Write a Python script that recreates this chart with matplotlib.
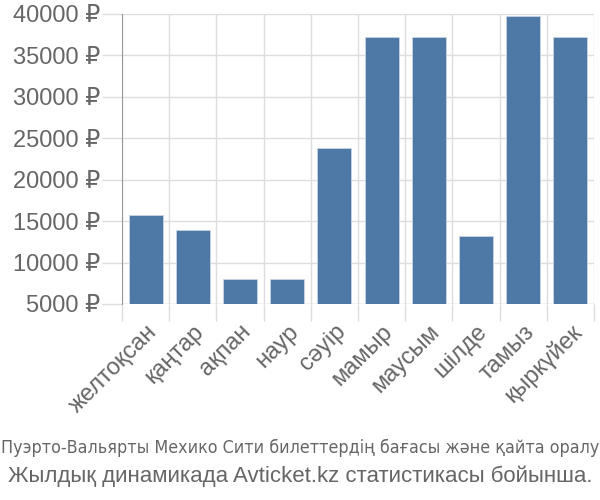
import matplotlib
matplotlib.use("Agg")
import matplotlib.pyplot as plt
from matplotlib import font_manager as fm
import numpy as np

months = ["желтоқсан", "қаңтар", "ақпан", "наур", "сәуір", "мамыр",
          "маусым", "шілде", "тамыз", "қыркүйек"]
prices = [15800, 13900, 8000, 8000, 23800, 37200, 37200, 13200, 39800, 37200]
yticks = [5000, 10000, 15000, 20000, 25000, 30000, 35000, 40000]
title1 = "Пуэрто-Вальярты Мехико Сити билеттердің бағасы және қайта оралу"
title2 = "Жылдық динамикада Avticket.kz статистикасы бойынша."

names = {f.name for f in fm.fontManager.ttflist}
base = "Liberation Sans" if "Liberation Sans" in names else "DejaVu Sans"
plt.rcParams['font.family'] = [base, 'DejaVu Sans']

# look for a condensed face for the first caption line
cond = None
for f in fm.fontManager.ttflist:
    fn = f.fname.lower()
    if ('narrow' in fn or 'condensed' in fn) and f.style == 'normal' and \
            f.weight in (400, 'normal', 'regular') and ('sans' in fn or 'roboto' in fn):
        if 'mono' in fn or 'bold' in fn or 'oblique' in fn or 'italic' in fn or 'light' in fn:
            continue
        cond = f.fname
        break

txt = '#666666'
fig = plt.figure(figsize=(6, 5), dpi=100)
ax = fig.add_axes([0.2033, 0.392, 0.7867, 0.58])
x = np.arange(len(months))
ax.bar(x, prices, width=0.72, color='#4e79a7', edgecolor='#c8d4e3', linewidth=0.6, zorder=3)
ax.set_xlim(-0.5, len(months) - 0.5)
ax.set_ylim(5000, 40000)
ax.set_yticks(yticks)
ax.set_yticklabels([f"{v} ₽" for v in yticks], color=txt, fontsize=17)
ax.tick_params(axis='y', length=14.5, color='#dddddd', width=1, pad=1)
ax.set_xticks(x)
ax.set_xticklabels(months, rotation=45, ha='right', rotation_mode='anchor',
                   color=txt, fontsize=17)
ax.tick_params(axis='x', which='major', length=0, pad=12)
ax.set_xticks(np.arange(-0.5, len(months)), minor=True)
ax.tick_params(axis='x', which='minor', length=12, color='#dddddd', width=1)
ax.grid(axis='y', color='#dddddd', lw=1, zorder=0)
ax.grid(axis='x', which='minor', color='#dddddd', lw=1, zorder=0)
for s in ['top', 'right', 'bottom']:
    ax.spines[s].set_visible(False)
ax.spines['left'].set_color('#999999')
ax.spines['left'].set_zorder(4)
ax.axhline(5000, color='#dddddd', lw=1, zorder=2)

if cond:
    t1 = fig.text(0.5, 1 - 448/500, title1, ha='center', va='center', color=txt,
                  fontsize=16, fontproperties=fm.FontProperties(fname=cond, size=16))
else:
    t1 = fig.text(0.5, 1 - 448/500, title1, ha='center', va='center', color=txt,
                  fontsize=16)
t2 = fig.text(0.5, 1 - 476/500, title2, ha='center', va='center', color=txt,
              fontsize=16)
fig.canvas.draw()
r = fig.canvas.get_renderer()
for t, target in ((t1, 596), (t2, 598)):
    w = t.get_window_extent(r).width
    if w > target:
        t.set_fontsize(t.get_fontsize() * target / w)
fig.savefig("out.png", dpi=100)
